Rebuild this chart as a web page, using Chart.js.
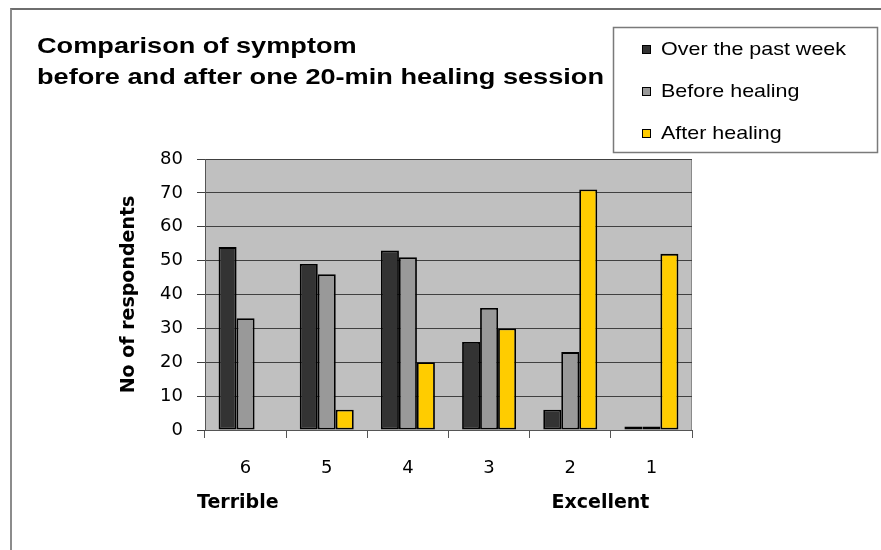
<!DOCTYPE html>
<html>
<head>
<meta charset="utf-8">
<title>Comparison of symptom</title>
<script src="https://cdn.jsdelivr.net/npm/chart.js@4.4.1/dist/chart.umd.min.js"></script>
<style>
    html, body { margin: 0; padding: 0; background: #fff; }
    .frame {
        position: absolute; left: 10px; top: 8px; right: 0; bottom: 0;
        border-left: 2px solid #8c8c8c; border-top: 2px solid #6e6e6e;
    }
    #wrap { position: absolute; left: 0; top: 0; width: 881px; height: 550px; }
</style>
</head>
<body>
<div class="frame"></div>
<div id="wrap"><canvas id="symptomChart" width="881" height="550"></canvas></div>
<script>
// --- data ---
const categories = ['6', '5', '4', '3', '2', '1'];
const pastWeek = [54, 49, 53, 26, 6, 1];
const beforeHealing = [33, 46, 51, 36, 23, 1];
const afterHealing = [0, 6, 20, 30, 71, 52];
const seriesNames = ['Over the past week', 'Before healing', 'After healing'];
const yTicks = [0, 10, 20, 30, 40, 50, 60, 70, 80];
const titleLines = ['Comparison of symptom', 'before and after one 20-min healing session'];
const scaleEnds = ['Terrible', 'Excellent'];

const FONT = '"Liberation Sans", Arial, sans-serif';
const WIDE_FONT = '"DejaVu Sans", Verdana, sans-serif';

// plot background
const plotBackground = {
    id: 'plotBackground',
    beforeDraw(chart) {
        const { ctx, chartArea: a } = chart;
        ctx.save();
        ctx.fillStyle = '#c0c0c0';
        ctx.fillRect(a.left, a.top, a.right - a.left, a.bottom - a.top);
        ctx.strokeStyle = '#8a8a8a';
        ctx.lineWidth = 1;
        ctx.strokeRect(a.left + 0.5, a.top + 0.5, a.right - a.left - 1, a.bottom - a.top);
        ctx.restore();
    }
};

// text squeezed/stretched horizontally to a width
function fitText(ctx, text, x, y, width) {
    const w = ctx.measureText(text).width;
    ctx.save();
    ctx.translate(x, y);
    ctx.scale(width / w, 1);
    ctx.fillText(text, 0, 0);
    ctx.restore();
}

// title, legend box and scale-end labels
const extras = {
    id: 'extras',
    afterDraw(chart) {
        const { ctx, chartArea: a } = chart;
        const xs = chart.scales.x;
        ctx.save();
        ctx.fillStyle = '#000';
        ctx.textBaseline = 'middle';
        ctx.textAlign = 'left';

        ctx.font = 'bold 22px ' + FONT;
        const k = 567 / ctx.measureText(titleLines[1]).width;
        fitText(ctx, titleLines[0], 37, 47, ctx.measureText(titleLines[0]).width * k);
        fitText(ctx, titleLines[1], 37, 78, 567);

        // legend
        ctx.fillStyle = '#fff';
        ctx.fillRect(613, 27, 265, 126);
        ctx.strokeStyle = '#7a7a7a';
        ctx.lineWidth = 1.5;
        ctx.strokeRect(613.5, 27.5, 264, 125);
        ctx.font = '19px ' + FONT;
        const lk = 185 / ctx.measureText(seriesNames[0]).width;
        const rows = [49, 91, 133];
        chart.data.datasets.forEach((ds, i) => {
            ctx.fillStyle = ds.backgroundColor;
            ctx.fillRect(642, rows[i] - 4, 9, 9);
            ctx.strokeStyle = '#000';
            ctx.lineWidth = 1;
            ctx.strokeRect(642.5, rows[i] - 3.5, 8, 8);
            ctx.fillStyle = '#000';
            fitText(ctx, ds.label, 661, rows[i] + 1, ctx.measureText(ds.label).width * lk);
        });

        // scale ends
        ctx.font = 'bold 19px ' + WIDE_FONT;
        ctx.textAlign = 'left';
        ctx.fillText(scaleEnds[0], a.left - 8, 503);
        ctx.textAlign = 'right';
        ctx.fillText(scaleEnds[1], xs.getPixelForValue(5) - 2, 503);
        ctx.restore();
    }
};

const colors = ['#333333', '#999999', '#ffcc00'];
const values = [pastWeek, beforeHealing, afterHealing];

new Chart(document.getElementById('symptomChart'), {
    type: 'bar',
    data: {
        labels: categories,
        datasets: seriesNames.map((name, i) => ({
            label: name,
            data: values[i],
            backgroundColor: colors[i],
            borderColor: '#000',
            borderWidth: 1.8,
            borderSkipped: false,
            categoryPercentage: 0.665,
            barPercentage: 1
        }))
    },
    options: {
        responsive: false,
        animation: false,
        events: [],
        layout: { padding: { top: 159, right: 189, bottom: 70, left: 0 } },
        plugins: {
            legend: { display: false },
            title: { display: false },
            tooltip: { enabled: false }
        },
        scales: {
            x: {
                grid: {
                    offset: true,
                    drawOnChartArea: false,
                    tickLength: 8,
                    color: '#555',
                    lineWidth: 1
                },
                border: { color: '#555', width: 1 },
                ticks: {
                    color: '#000',
                    padding: 20,
                    font: { family: WIDE_FONT, size: 18 }
                },
                afterFit: s => { s.height = 50; }
            },
            y: {
                min: 0,
                max: 80,
                afterBuildTicks: s => { s.ticks = yTicks.map(v => ({ value: v })); },
                grid: {
                    color: '#404040',
                    lineWidth: 1,
                    tickLength: 8
                },
                border: { color: '#555', width: 1 },
                ticks: {
                    color: '#000',
                    padding: 14,
                    font: { family: WIDE_FONT, size: 18 }
                },
                title: {
                    display: true,
                    text: 'No of respondents',
                    color: '#000',
                    font: { family: WIDE_FONT, size: 19, weight: 'bold' },
                    padding: { top: 118, bottom: 0 }
                },
                afterFit: s => { s.width = 205; }
            }
        }
    },
    plugins: [plotBackground, extras]
});
</script>
</body>
</html>
